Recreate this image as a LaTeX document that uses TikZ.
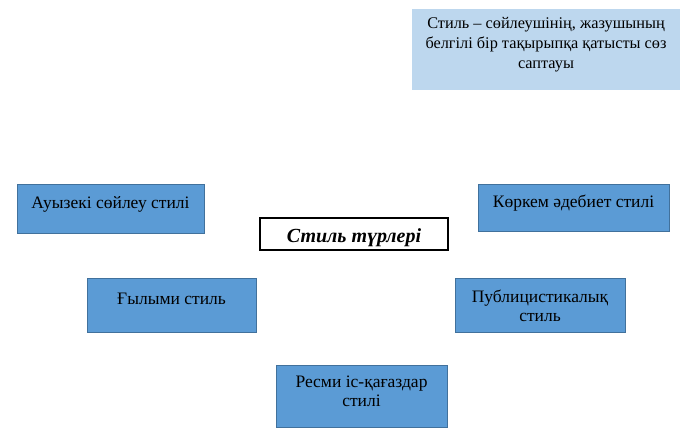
\documentclass[tikz,border=0pt]{standalone}
\usepackage{fontspec}
\setmainfont{Liberation Serif}
\definecolor{boxfill}{HTML}{5B9BD5}
\definecolor{boxline}{HTML}{41719C}
\definecolor{deffill}{HTML}{BDD7EE}
\begin{document}
\begin{tikzpicture}[x=1pt,y=-1pt,
  bluebox/.style={draw=boxline, line width=1pt, fill=boxfill},
  defbox/.style={fill=deffill},
  titlebox/.style={draw=black, line width=1.1pt, fill=white},
  lbl/.style={anchor=north, inner sep=0pt, align=center, font=\fontsize{17.5}{19}\selectfont},
  deflbl/.style={anchor=north, inner sep=0pt, align=center, font=\fontsize{16.3}{20}\selectfont}
]
\useasboundingbox (0,0) rectangle (686,435);
% definition
\path[defbox] (412,9) rectangle (680,90);
\node[deflbl] (deftxt) at (546,28-14) {\strut Стиль – сөйлеушінің, жазушының\\ белгілі бір тақырыпқа қатысты сөз\\ саптауы};
% boxes
\draw[bluebox] (17,185) rectangle (204,234);
\node[lbl] (t1) at (110.5,208-13.3) {\strut Ауызекі сөйлеу стилі};
\draw[bluebox] (478,185) rectangle (669,232);
\node[lbl] (t2) at (573.5,207-13.3) {\strut Көркем әдебиет стилі};
\draw[bluebox] (87,279) rectangle (256,333);
\node[lbl] (t3) at (171.5,304-13.3) {\strut Ғылыми стиль};
\draw[bluebox] (455,279) rectangle (625,333);
\node[lbl] (t4) at (540,302-13.3) {\strut Публицистикалық\\ стиль};
\draw[bluebox] (276,366) rectangle (447,428);
\node[lbl] (t5) at (361.5,387-13.3) {\strut Ресми іс-қағаздар\\ стилі};
% title
\draw[titlebox] (260,218) rectangle (448,250);
\node[anchor=base, inner sep=0pt, font=\fontsize{20}{23}\selectfont\bfseries\itshape] (title) at (354,243) {Стиль түрлері};
\end{tikzpicture}
\end{document}
